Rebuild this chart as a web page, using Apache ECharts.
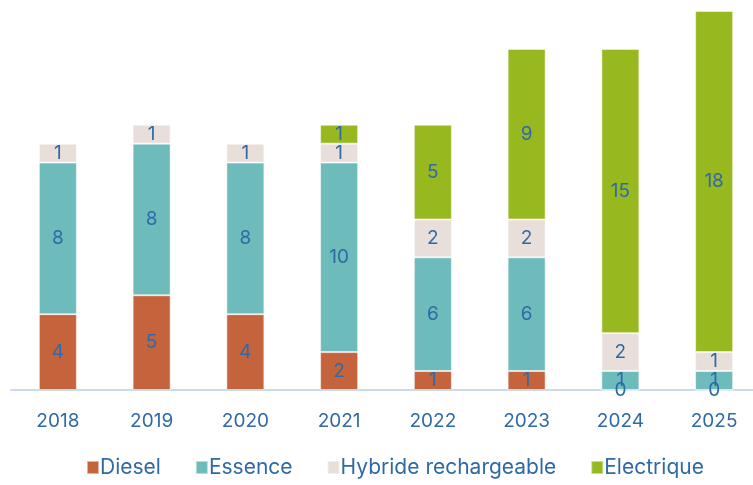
<!DOCTYPE html>
<html><head><meta charset="utf-8">
<script src="https://cdn.jsdelivr.net/npm/echarts@6/dist/echarts.min.js"></script>
<style>html,body{margin:0;padding:0;background:#fff;overflow:hidden}#c{width:761px;height:485px}</style>
</head><body><div id="c"></div>
<script>
const categories = ['2018','2019','2020','2021','2022','2023','2024','2025'];
const diesel = [4,5,4,2,1,1,0,0];
const essence = [8,8,8,10,6,6,1,1];
const hybride = [1,1,1,1,2,2,2,1];
const electrique = [null,null,null,1,5,9,15,18];
const seriesNames = ['Diesel','Essence','Hybride rechargeable','Electrique'];
const colors = ['#c5643c','#6dbbbb','#e8dfdb','#97b91f'];
const textColor = '#2f6aa6';
const font = 'Inter';
const chart = echarts.init(document.getElementById('c'));
const data = [diesel, essence, hybride, electrique];
chart.setOption({
  animation:false,
  textStyle:{fontFamily:font},
  grid:{left:11,right:0,top:11,bottom:95},
  legend:{bottom:2,left:81,itemWidth:12,itemHeight:13,itemGap:34,icon:'rect',
    textStyle:{color:textColor,fontSize:21,fontFamily:font,padding:[0,0,0,-4]},
    data:seriesNames},
  xAxis:{type:'category',data:categories,axisTick:{show:false},
    axisLine:{lineStyle:{color:'#c9dcef',width:2}},
    axisLabel:{color:textColor,fontSize:19,margin:22,fontFamily:font}},
  yAxis:{type:'value',min:0,max:20,show:false,splitLine:{show:false}},
  series: data.map((d,i)=>({
    name:seriesNames[i],type:'bar',stack:'t',data:d,barWidth:38,
    itemStyle:{color:colors[i],borderColor:'rgba(255,255,255,0.5)',borderWidth:1},
    label:{show:true,position:'inside',color:textColor,fontSize:19,fontFamily:font}
  }))
});
</script></body></html>
